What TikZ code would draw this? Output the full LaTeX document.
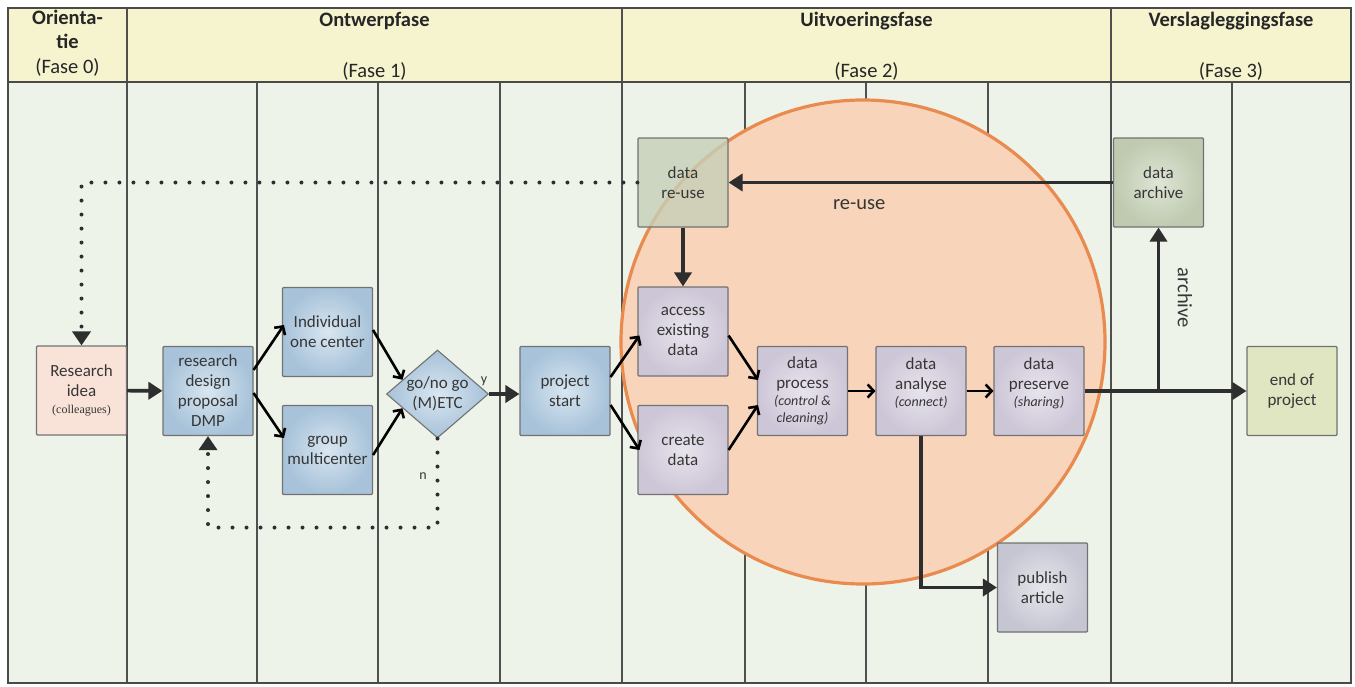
\documentclass[tikz,border=0pt]{standalone}
\usepackage{fontspec}
\setmainfont{Carlito}
\newfontfamily\smallserif{Liberation Serif}
\newcommand{\smit}[1]{{\itshape\fontsize{14}{17}\selectfont #1}}
\usetikzlibrary{arrows.meta,shapes.geometric,calc}
\definecolor{bgc}{HTML}{EEF3E9}
\definecolor{hdrc}{HTML}{F6F4CF}
\definecolor{framec}{HTML}{4A4A4A}
\definecolor{colc}{HTML}{505050}
\definecolor{bluo}{HTML}{A7C2D9}
\definecolor{blui}{HTML}{D8E6F0}
\definecolor{lavo}{HTML}{CDC6D7}
\definecolor{lavi}{HTML}{E8E4ED}
\definecolor{grno}{HTML}{BFCAB0}
\definecolor{grni}{HTML}{DEE5D5}
\definecolor{pinkc}{HTML}{F9E3D8}
\definecolor{eopc}{HTML}{E1E6C2}
\definecolor{pubo}{HTML}{C6C6D3}
\definecolor{pubi}{HTML}{E6E6EC}
\definecolor{circf}{HTML}{F8D4BB}
\definecolor{circe}{HTML}{E98B4E}
\definecolor{arrc}{HTML}{2E2E2E}
\definecolor{txtc}{HTML}{363636}
\definecolor{edgec}{HTML}{727272}
\begin{document}
\begin{tikzpicture}[x=1pt,y=-1pt,
  stepbox/.style={draw=edgec, line width=1.1pt, rounded corners=1pt,
    minimum width=90pt, minimum height=89pt, inner sep=0pt, align=center,
    text=txtc, font=\fontsize{17}{20}\selectfont},
  bluebox/.style={stepbox, shading=radial, inner color=blui, outer color=bluo},
  lavbox/.style={stepbox, shading=radial, inner color=lavi, outer color=lavo},
  grnbox/.style={stepbox, shading=radial, inner color=grni, outer color=grno},
  pubbox/.style={stepbox, shading=radial, inner color=pubi, outer color=pubo},
  hdrtxt/.style={align=center, text=black!85, font=\fontsize{20.5}{24.5}\selectfont},
  lbl/.style={text=txtc, font=\fontsize{20.5}{24}\selectfont},
  thk/.style={draw=arrc, line width=3.6pt, -{Triangle[width=17pt,length=14pt]}},
  thn/.style={draw=black, line width=2.6pt, -{Straight Barb[width=13pt,length=6pt]}},
  dotl/.style={draw=arrc, line width=4pt, line cap=round, dash pattern=on 0pt off 14pt,
    -{Triangle[width=18pt,length=14pt]}},
  colline/.style={draw=colc, line width=2pt}
]
\useasboundingbox (0,0) rectangle (1355,686);
\fill[white] (0,0) rectangle (1355,686);
\fill[bgc] (8,8) rectangle (1351,683);
\fill[hdrc] (8,8) rectangle (1351,82);
% columns
\foreach \x in {127,622,1111} \draw[colline] (\x,8) -- (\x,683);
\foreach \x in {257,378,500,745,866,988,1232} \draw[colline] (\x,82) -- (\x,683);
\draw[framec, line width=2pt] (8,82) -- (1351,82);
\draw[framec, line width=2.5pt] (8,8) rectangle (1351,683);
% header
\node[hdrtxt] (h0) at (67.5,43) {\textbf{Orienta-}\\\textbf{tie}\\(Fase 0)};
\node[hdrtxt] (h1a) at (374.5,21) {\textbf{Ontwerpfase}};
\node[hdrtxt] (h1b) at (374.5,71) {(Fase 1)};
\node[hdrtxt] (h2a) at (866.5,21) {\textbf{Uitvoeringsfase}};
\node[hdrtxt] (h2b) at (866.5,71) {(Fase 2)};
\node[hdrtxt] (h3a) at (1231,21) {\textbf{Verslagleggingsfase}};
\node[hdrtxt] (h3b) at (1231,71) {(Fase 3)};
% circle
\fill[circf] (863,342) circle[radius=242pt];
\draw[circe, line width=3.2pt] (863,342) circle[radius=242pt];
% nodes
\node[stepbox, fill=pinkc] (ri) at (81.5,390.5) {Research\\idea\\[-3pt]{\smallserif\fontsize{12}{14}\selectfont(colleagues)}};
\node[bluebox] (rd) at (208,391) {research\\design\\proposal\\DMP};
\node[bluebox] (ind) at (327.5,332) {Individual\\one center};
\node[bluebox] (grp) at (327.5,450) {group\\multicenter};
\node[diamond, draw=edgec, line width=1.1pt, shading=radial, inner color=blui, outer color=bluo,
  minimum width=102pt, minimum height=88pt, inner sep=0pt] (dec) at (437.5,394) {};
\node[align=center, text=txtc, font=\fontsize{17}{20}\selectfont] (dect) at (dec) {go/no go\\(M)ETC};
\node[text=txtc, font=\fontsize{14}{16}\selectfont] (ylab) at (484,381) {y};
\node[text=txtc, font=\fontsize{14}{16}\selectfont] (nlab) at (423,476) {n};
\node[bluebox] (ps) at (565,391) {project\\start};
\node[stepbox, fill=grno!80!grni, fill opacity=0.8, text opacity=1] (reuse) at (683,182.5) {data\\re-use};
\node[lavbox] (acc) at (683,331.5) {access\\existing\\data};
\node[lavbox] (cre) at (683,450) {create\\data};
\node[lavbox] (proc) at (802.5,391) {data\\process\\[-3pt]\smit{(control \&}\\[-3pt]\smit{cleaning)}};
\node[lavbox] (ana) at (921,391) {data\\analyse\\[-3pt]\smit{(connect)}\\[-3pt]\mbox{}};
\node[lavbox] (pres) at (1039,391) {data\\preserve\\[-3pt]\smit{(sharing)}\\[-3pt]\mbox{}};
\node[grnbox] (arch) at (1158.5,182.5) {data\\archive};
\node[stepbox, fill=eopc] (eop) at (1292,391) {end of\\project};
\node[pubbox] (pub) at (1042.5,587.5) {publish\\article};
% connectors
\draw[thk] (ri) -- (rd);
\draw[thn] ([yshift=21pt]rd.east) -- ([yshift=7pt,xshift=2pt]ind.west);
\draw[thn] ([yshift=-2pt]rd.east) -- ([yshift=12pt,xshift=2pt]grp.west);
\draw[thn] ([yshift=2pt]ind.east) -- ($(dec.west)!0.32!(dec.north)$);
\draw[thn] ([yshift=-5pt]grp.east) -- ($(dec.west)!0.32!(dec.south)$);
\draw[thk] (dec.east) -- (dec.east -| ps.west);
\draw[thn] ([yshift=14pt]ps.east) -- ([yshift=-4pt,xshift=2pt]acc.west);
\draw[thn] ([yshift=-14pt]ps.east) -- ([xshift=2pt]cre.west);
\draw[thn] ([yshift=-4pt]acc.east) -- ([yshift=11pt,xshift=1pt]proc.west);
\draw[thn] (cre.east) -- ([yshift=-14pt,xshift=1pt]proc.west);
\draw[thn] (proc) -- (ana);
\draw[thn] (ana) -- (pres);
\draw[thk] (reuse.south) -- (acc.north);
\draw[thk] (arch.west) -- node[lbl, below=12pt, pos=0.66] (reuselbl) {re-use} (reuse.east);
\coordinate (j) at (arch.south |- pres.east);
\draw[thk] (pres.east) -- (eop.west);
\draw[thk] (j) -- node[lbl, rotate=-90, above=14pt, pos=0.57] (archlbl) {archive} (arch.south);
\draw[thk] (ana.south) |- (pub.west);
\draw[dotl] (dec.south) -- ++(0,89) -| (rd.south);
\draw[dotl] (reuse.west) -| (ri.north);
\end{tikzpicture}
\end{document}
